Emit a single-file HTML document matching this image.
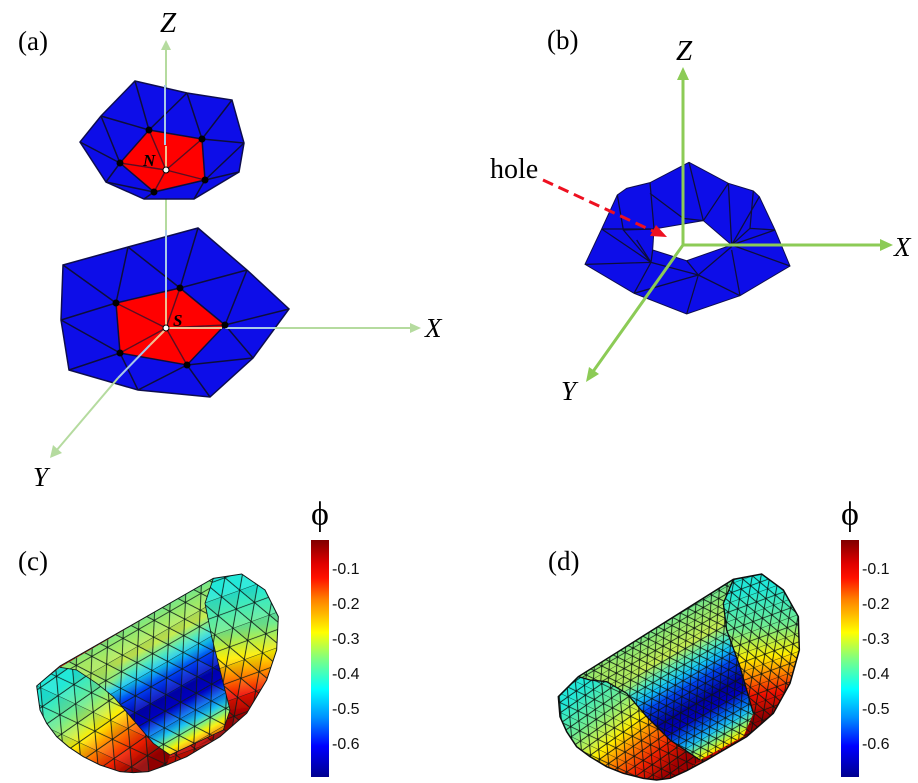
<!DOCTYPE html>
<html>
<head>
<meta charset="utf-8">
<style>
html,body{margin:0;padding:0;background:#fff;width:918px;height:783px;overflow:hidden}
svg{display:block}
text{font-family:"Liberation Serif",serif;fill:#000}
.it{font-style:italic}
.sans{font-family:"Liberation Sans",sans-serif;font-size:16px;fill:#111}
</style>
</head>
<body>
<svg width="918" height="783" viewBox="0 0 918 783" xmlns="http://www.w3.org/2000/svg">
<defs>
<linearGradient id="jet" x1="0" y1="0" x2="0" y2="1">
<stop offset="0" stop-color="#800000"/><stop offset=".1" stop-color="#e00000"/><stop offset=".16" stop-color="#ff1000"/><stop offset=".25" stop-color="#ff8000"/><stop offset=".39" stop-color="#ffff00"/><stop offset=".5" stop-color="#80ff80"/><stop offset=".63" stop-color="#00ffff"/><stop offset=".75" stop-color="#0090ff"/><stop offset=".87" stop-color="#0000ff"/><stop offset="1" stop-color="#00008f"/>
</linearGradient>
<linearGradient id="cL" gradientUnits="userSpaceOnUse" x1="130" y1="370" x2="340" y2="640">
<stop offset="0" stop-color="#20e8d8"/><stop offset=".25" stop-color="#70ec90"/><stop offset=".42" stop-color="#d0f040"/><stop offset=".5" stop-color="#ffee00"/><stop offset=".65" stop-color="#ff8000"/><stop offset=".82" stop-color="#f02000"/><stop offset="1" stop-color="#900000"/>
</linearGradient>
<linearGradient id="cR" gradientUnits="userSpaceOnUse" x1="630" y1="90" x2="685" y2="470">
<stop offset="0" stop-color="#20e8d8"/><stop offset=".3" stop-color="#70ec90"/><stop offset=".53" stop-color="#ffee00"/><stop offset=".68" stop-color="#ff8000"/><stop offset=".82" stop-color="#f01000"/><stop offset="1" stop-color="#900000"/>
</linearGradient>
<linearGradient id="cT" gradientUnits="userSpaceOnUse" x1="330" y1="170" x2="540" y2="560">
<stop offset="0" stop-color="#60e8a0"/><stop offset=".1" stop-color="#90e870"/><stop offset=".24" stop-color="#c8ec50"/><stop offset=".33" stop-color="#50e8c0"/><stop offset=".4" stop-color="#10c0f8"/><stop offset=".48" stop-color="#0040f0"/><stop offset=".6" stop-color="#0000b0"/><stop offset=".68" stop-color="#0000c0"/><stop offset=".76" stop-color="#0070f0"/><stop offset=".82" stop-color="#20c8f0"/><stop offset=".87" stop-color="#80f080"/><stop offset=".92" stop-color="#f8f000"/><stop offset="1" stop-color="#ff5000"/>
</linearGradient>
<linearGradient id="dL" gradientUnits="userSpaceOnUse" x1="130" y1="380" x2="370" y2="650">
<stop offset="0" stop-color="#20e8d8"/><stop offset=".25" stop-color="#70ec90"/><stop offset=".42" stop-color="#d0f040"/><stop offset=".5" stop-color="#ffee00"/><stop offset=".65" stop-color="#ff8000"/><stop offset=".82" stop-color="#f02000"/><stop offset="1" stop-color="#a00000"/>
</linearGradient>
<linearGradient id="dT" gradientUnits="userSpaceOnUse" x1="330" y1="190" x2="560" y2="590">
<stop offset="0" stop-color="#60e8a0"/><stop offset=".1" stop-color="#90e870"/><stop offset=".24" stop-color="#c8ec50"/><stop offset=".33" stop-color="#50e8c0"/><stop offset=".4" stop-color="#10c0f8"/><stop offset=".48" stop-color="#0040f0"/><stop offset=".6" stop-color="#0000a0"/><stop offset=".68" stop-color="#0000c0"/><stop offset=".76" stop-color="#0070f0"/><stop offset=".82" stop-color="#20c8f0"/><stop offset=".87" stop-color="#80f080"/><stop offset=".92" stop-color="#f8f000"/><stop offset="1" stop-color="#ff5000"/>
</linearGradient>
<radialGradient id="lime" cx=".5" cy=".5" r=".5">
<stop offset="0" stop-color="#a8e860" stop-opacity=".9"/><stop offset=".6" stop-color="#a8e860" stop-opacity=".6"/><stop offset="1" stop-color="#a8e860" stop-opacity="0"/>
</radialGradient>
<pattern id="mcL" patternUnits="userSpaceOnUse" width="58" height="100" patternTransform="rotate(25 100 400)">
<polygon points="0,0 58,0 29,50" fill="#000" fill-opacity=".07"/><polygon points="29,50 58,100 0,100" fill="#fff" fill-opacity=".08"/>
<path d="M0 0L58 100M58 0L0 100M0 0H58M0 50H58" stroke="#0c1c18" stroke-width="2.6" fill="none"/>
</pattern>
<pattern id="mcR" patternUnits="userSpaceOnUse" width="58" height="100" patternTransform="rotate(-20 650 200)">
<polygon points="0,0 58,0 29,50" fill="#000" fill-opacity=".07"/><polygon points="29,50 58,100 0,100" fill="#fff" fill-opacity=".08"/>
<path d="M0 0L58 100M58 0L0 100M0 0H58M0 50H58" stroke="#0c1c18" stroke-width="2.6" fill="none"/>
</pattern>
<pattern id="mcT" patternUnits="userSpaceOnUse" width="54" height="84" patternTransform="rotate(-30 350 200)">
<polygon points="0,0 54,0 27,42" fill="#000" fill-opacity=".07"/><polygon points="27,42 54,84 0,84" fill="#fff" fill-opacity=".08"/>
<path d="M0 0L54 84M54 0L0 84M0 0H54M0 42H54" stroke="#0c1c18" stroke-width="2.6" fill="none"/>
</pattern>
<pattern id="mdL" patternUnits="userSpaceOnUse" width="30" height="52" patternTransform="rotate(25 100 400)">
<path d="M0 0L30 52M30 0L0 52M0 0H30M0 26H30" stroke="#0a1410" stroke-width="2.5" fill="none"/>
</pattern>
<pattern id="mdR" patternUnits="userSpaceOnUse" width="30" height="52" patternTransform="rotate(-20 650 200)">
<path d="M0 0L30 52M30 0L0 52M0 0H30M0 26H30" stroke="#0a1410" stroke-width="2.5" fill="none"/>
</pattern>
<pattern id="mdT" patternUnits="userSpaceOnUse" width="27" height="40" patternTransform="rotate(-30 350 200)">
<path d="M0 0L27 40M27 0L0 40M0 0H27M0 20H27" stroke="#0a1410" stroke-width="2.5" fill="none"/>
</pattern>
<clipPath id="clipCT"><polygon points="120,322 580,55 555,130 575,230 610,370 630,450 610,510 450,585 400,550 340,480 280,410 230,370 170,330"/></clipPath>
<clipPath id="clipDT"><polygon points="115,350 580,58 550,130 560,210 600,320 640,460 610,530 480,600 390,540 320,470 260,400 200,365 150,360"/></clipPath>
<filter id="soft" x="-5%" y="-5%" width="110%" height="110%"><feGaussianBlur stdDeviation="1"/></filter>
<filter id="soft2" x="-5%" y="-5%" width="110%" height="110%"><feGaussianBlur stdDeviation=".35"/></filter>
</defs>

<!-- Panel a -->
<g stroke="#b5db9f" stroke-width="2" fill="none">
<line x1="166" y1="328" x2="166" y2="46"/>
</g>
<g filter="url(#soft2)">
<polygon points="135,81 187,93 232,100 244,143 239,172 194,199 144,199 106,182 80,142 101,116" fill="#0808e8" stroke="#101050" stroke-width="1.5"/>
<polygon points="149,130 202,139 205,180 154,192 120,163" fill="#ff0000"/>
<path d="M135 81L149 130M187 93L149 130M187 93L202 139M232 100L202 139M244 143L202 139M101 116L149 130M101 116L120 163M80 142L120 163M106 182L120 163M106 182L154 192M144 199L154 192M194 199L205 180M239 172L205 180M244 143L205 180M149 130L202 139L205 180L154 192L120 163Z" stroke="#10103a" stroke-width="1.5" fill="none"/>
<path d="M166 170L149 130M166 170L202 139M166 170L205 180M166 170L154 192M166 170L120 163" stroke="#5a1020" stroke-width="1.4" fill="none"/>

<polygon points="63,265 128,247 198,228 247,270 289,309 253,358 210,397 138,390 69,370 61,320" fill="#0808e8" stroke="#101050" stroke-width="1.5"/>
<polygon points="180,288 225,325 187,365 120,353 116,303" fill="#ff0000"/>
<path d="M128 247L116 303M128 247L180 288M198 228L180 288M63 265L116 303M61 320L116 303M61 320L120 353M69 370L120 353M120 353L138 390M138 390L187 365M210 397L187 365M253 358L187 365M253 358L225 325M289 309L225 325M247 270L225 325M247 270L180 288M180 288L225 325L187 365L120 353L116 303Z" stroke="#10103a" stroke-width="1.5" fill="none"/>
<path d="M166 328L180 288M166 328L116 303M166 328L120 353M166 328L187 365M166 328L225 325" stroke="#5a1020" stroke-width="1.4" fill="none"/>
</g>
<g stroke="#a8c8e8" stroke-width="2" fill="none">
<line x1="165" y1="85" x2="165" y2="145"/>
<line x1="166" y1="230" x2="166" y2="298"/>
<line x1="225" y1="328" x2="275" y2="328"/>
<line x1="118" y1="378" x2="150" y2="345"/>
</g>
<g stroke="#f0c090" stroke-width="2" fill="none">
<line x1="166" y1="298" x2="166" y2="325"/>
<line x1="169" y1="328" x2="222" y2="328"/>
<line x1="150" y1="345" x2="165" y2="330"/>
<line x1="166" y1="146" x2="166" y2="168"/>
</g>
<g stroke="#b5db9f" stroke-width="2" fill="none">
<line x1="275" y1="328" x2="412" y2="328"/>
<line x1="118" y1="378" x2="56" y2="451"/>
</g>
<polygon points="166,40 161,50 171,50" fill="#b5db9f"/>
<polygon points="421,328 410,323 410,333" fill="#b5db9f"/>
<polygon points="50,458 53,445 62,453" fill="#b5db9f"/>
<g fill="#000">
<circle cx="149" cy="130" r="3.5"/><circle cx="202" cy="139" r="3.5"/><circle cx="205" cy="180" r="3.5"/><circle cx="154" cy="192" r="3.5"/><circle cx="120" cy="163" r="3.5"/>
<circle cx="180" cy="288" r="3.5"/><circle cx="225" cy="325" r="3.5"/><circle cx="187" cy="365" r="3.5"/><circle cx="120" cy="353" r="3.5"/><circle cx="116" cy="303" r="3.5"/>
</g>
<circle cx="166" cy="170" r="3" fill="#fff" stroke="#000"/>
<circle cx="166" cy="328" r="3" fill="#fff" stroke="#000"/>
<text x="18" y="50" font-size="27">(a)</text>
<text x="160" y="32" font-size="29" class="it">Z</text>
<text x="425" y="337" font-size="27" class="it">X</text>
<text x="33" y="486" font-size="27" class="it">Y</text>
<text x="143" y="166" font-size="17" font-weight="bold" class="it">N</text>
<text x="173" y="326" font-size="17" font-weight="bold" class="it">S</text>

<!-- Panel b -->
<g transform="translate(480 130) scale(.33333)" filter="url(#soft)">
<path fill-rule="evenodd" d="M627 97L745 160L820 183L838 200L885 300L930 408L780 497L620 552L462 490L315 403L365 297L412 195L440 175L510 158ZM670 272L522 297L518 360L620 392L755 345Z" fill="#0808e8" stroke="#101050" stroke-width="3"/>
<path d="M627 97L670 272M745 160L670 272M745 160L755 345M838 200L755 345M810 295L755 345M885 300L755 345M930 408L755 345M780 497L755 360M780 497L655 435M620 552L655 435M462 490L655 435M462 490L513 397M315 403L513 397M620 392L655 435M513 397L655 435M755 350L655 435M510 158L522 297M510 190L610 265L670 272M412 195L430 300L522 297M365 297L513 397M365 297L522 297M430 300L513 397M470 330L513 397M518 360L513 397M820 183L810 295M810 295L885 300" stroke="#10103a" stroke-width="3.8" fill="none"/>
</g>
<g stroke="#8ccb56" stroke-width="3" fill="none" stroke-linecap="round">
<line x1="683" y1="245" x2="683" y2="76"/>
<line x1="683" y1="245" x2="882" y2="245"/>
<line x1="683" y1="245" x2="592" y2="373"/>
</g>
<polygon points="683,67 677,80 689,80" fill="#8ccb56"/>
<polygon points="893,245 880,239 880,251" fill="#8ccb56"/>
<polygon points="586,382 589,367 599,374" fill="#8ccb56"/>
<line x1="543" y1="180" x2="655" y2="232" stroke="#ee1020" stroke-width="3" stroke-dasharray="11 6"/>
<polygon points="667,237 650,236 656,225" fill="#ee1020"/>
<text x="547" y="49" font-size="27">(b)</text>
<text x="676" y="60" font-size="29" class="it">Z</text>
<text x="894" y="256" font-size="27" class="it">X</text>
<text x="561" y="400" font-size="27" class="it">Y</text>
<text x="490" y="178" font-size="28">hole</text>

<!-- Panel c -->
<g transform="translate(20 560) scale(.33333)" filter="url(#soft)">
<polygon points="50,378 120,318 580,55 665,42 735,90 775,170 770,270 740,360 680,460 600,530 500,590 440,615 385,635 340,638 300,635 240,615 190,590 145,560 110,530 80,490 60,450" fill="#c40a00"/>
<polygon points="50,378 120,318 580,55 665,42 735,90 775,170 770,270 740,360 680,460 600,530 500,590 440,615 385,635 340,638 300,635 240,615 190,590 145,560 110,530 80,490 60,450" fill="url(#mcR)"/>
<polygon points="50,378 120,322 170,330 230,370 280,410 340,480 400,550 450,585 440,615 385,635 340,638 300,635 240,615 190,590 145,560 110,530 80,490 60,450" fill="url(#cL)"/>
<polygon points="580,55 665,42 735,90 775,170 770,270 740,360 680,460 600,530 530,560 610,510 630,450 610,370 575,230 555,130" fill="url(#cR)"/>
<polygon points="120,322 580,55 555,130 575,230 610,370 630,450 610,510 450,585 400,550 340,480 280,410 230,370 170,330" fill="url(#cT)"/>
<g clip-path="url(#clipCT)"><ellipse cx="230" cy="340" rx="90" ry="60" fill="url(#lime)"/></g>
<polygon points="50,378 120,322 170,330 230,370 280,410 340,480 400,550 450,585 440,615 385,635 340,638 300,635 240,615 190,590 145,560 110,530 80,490 60,450" fill="url(#mcL)"/>
<polygon points="580,55 665,42 735,90 775,170 770,270 740,360 680,460 600,530 530,560 610,510 630,450 610,370 575,230 555,130" fill="url(#mcR)"/>
<polygon points="120,322 580,55 555,130 575,230 610,370 630,450 610,510 450,585 400,550 340,480 280,410 230,370 170,330" fill="url(#mcT)"/>
<polygon points="50,378 120,318 580,55 665,42 735,90 775,170 770,270 740,360 680,460 600,530 500,590 440,615 385,635 340,638 300,635 240,615 190,590 145,560 110,530 80,490 60,450" fill="none" stroke="#101818" stroke-width="3"/>
<path d="M120 322L170 330L230 370L280 410L340 480L400 550L450 585L610 510L630 450L610 370L575 230L555 130L580 55" fill="none" stroke="#101818" stroke-width="2.5"/>
</g>
<text x="18" y="570" font-size="27">(c)</text>
<rect x="311" y="540" width="18" height="237" fill="url(#jet)"/>
<text x="311" y="525" font-size="34">ϕ</text>
<text x="332" y="574" class="sans">-0.1</text>
<text x="332" y="609" class="sans">-0.2</text>
<text x="332" y="644" class="sans">-0.3</text>
<text x="332" y="679" class="sans">-0.4</text>
<text x="332" y="714" class="sans">-0.5</text>
<text x="332" y="749" class="sans">-0.6</text>

<!-- Panel d -->
<g transform="translate(540 560) scale(.33333)" filter="url(#soft)">
<polygon points="55,410 115,350 580,58 665,42 730,90 775,170 778,270 750,370 700,460 620,530 500,600 440,632 390,655 350,660 310,655 250,640 200,620 150,590 110,560 80,515 60,470" fill="#c40a00"/>
<polygon points="55,410 115,350 580,58 665,42 730,90 775,170 778,270 750,370 700,460 620,530 500,600 440,632 390,655 350,660 310,655 250,640 200,620 150,590 110,560 80,515 60,470" fill="url(#mdR)"/>
<polygon points="55,410 115,350 150,360 200,365 260,400 320,470 390,540 480,600 440,632 390,655 350,660 310,655 250,640 200,620 150,590 110,560 80,515 60,470" fill="url(#dL)"/>
<polygon points="580,58 665,42 730,90 775,170 778,270 750,370 700,460 620,530 540,575 610,530 640,460 600,320 560,210 550,130" fill="url(#cR)"/>
<polygon points="115,350 580,58 550,130 560,210 600,320 640,460 610,530 480,600 390,540 320,470 260,400 200,365 150,360" fill="url(#dT)"/>
<g clip-path="url(#clipDT)"><ellipse cx="230" cy="350" rx="90" ry="60" fill="url(#lime)"/></g>
<polygon points="55,410 115,350 150,360 200,365 260,400 320,470 390,540 480,600 440,632 390,655 350,660 310,655 250,640 200,620 150,590 110,560 80,515 60,470" fill="url(#mdL)"/>
<polygon points="580,58 665,42 730,90 775,170 778,270 750,370 700,460 620,530 540,575 610,530 640,460 600,320 560,210 550,130" fill="url(#mdR)"/>
<polygon points="115,350 580,58 550,130 560,210 600,320 640,460 610,530 480,600 390,540 320,470 260,400 200,365 150,360" fill="url(#mdT)"/>
<polygon points="55,410 115,350 580,58 665,42 730,90 775,170 778,270 750,370 700,460 620,530 500,600 440,632 390,655 350,660 310,655 250,640 200,620 150,590 110,560 80,515 60,470" fill="none" stroke="#0a1010" stroke-width="4.5"/>
<path d="M115 350L150 360L200 365L260 400L320 470L390 540L480 600M640 460L600 320L560 210L550 130L580 58" fill="none" stroke="#0a1010" stroke-width="4"/>
</g>
<text x="548" y="570" font-size="27">(d)</text>
<rect x="841" y="540" width="18" height="237" fill="url(#jet)"/>
<text x="841" y="525" font-size="34">ϕ</text>
<text x="862" y="574" class="sans">-0.1</text>
<text x="862" y="609" class="sans">-0.2</text>
<text x="862" y="644" class="sans">-0.3</text>
<text x="862" y="679" class="sans">-0.4</text>
<text x="862" y="714" class="sans">-0.5</text>
<text x="862" y="749" class="sans">-0.6</text>
</svg>
</body>
</html>
